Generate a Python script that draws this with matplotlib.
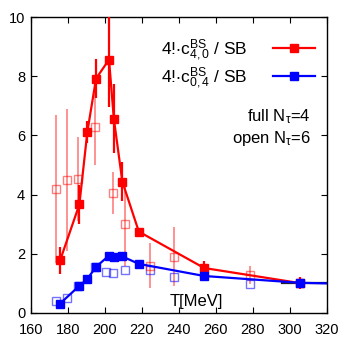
import matplotlib
matplotlib.use('Agg')
import matplotlib.pyplot as plt

plt.rcParams['font.family'] = ['Liberation Sans', 'DejaVu Sans']
plt.rcParams['mathtext.fontset'] = 'custom'
plt.rcParams['mathtext.rm'] = 'Liberation Sans'
plt.rcParams['mathtext.it'] = 'Liberation Sans'
plt.rcParams['mathtext.default'] = 'regular'

# full N_tau=4 (filled symbols, joined by lines)
t_full = [175.9, 186.3, 190.6, 195.3, 202.3, 204.9, 209.5, 218.4, 253.7, 305.4]
c40_full = [1.78, 3.67, 6.12, 7.92, 8.56, 6.57, 4.44, 2.75, 1.52, 1.01]
c40_full_err = [0.46, 0.66, 0.38, 0.65, 1.6, 1.15, 0.65, 0.1, 0.25, 0.2]
c04_full = [0.32, 0.92, 1.15, 1.56, 1.94, 1.89, 1.91, 1.66, 1.25, 1.02]

# open N_tau=6 (open symbols)
t_open = [173.7, 179.5, 185.4, 195.0, 204.7, 211.0, 224.3, 237.5, 278.6]
c40_open = [4.18, 4.49, 4.53, 6.29, 4.05, 3.0, 1.6, 1.9, 1.28]
c40_open_err = [2.5, 2.4, 1.43, 1.3, 0.7, 1.4, 0.75, 1.0, 0.3]
c04_open = [0.39, 0.50, 0.92, 1.56, 1.34, 1.44, 1.46, 1.21, 0.98]
c04_blue_extra_t = [200.9]
c04_blue_extra = [1.37]

# Stefan-Boltzmann limit
sb_t = [296.0, 320.0]
sb_val = [1.0, 1.0]

red = '#ff0000'
blue = '#0000ff'

fig = plt.figure(figsize=(3.47, 3.47), dpi=100)
ax = fig.add_axes([0.0885, 0.098, 0.8535, 0.853])

# open points
ax.errorbar(t_open, c40_open, yerr=c40_open_err, fmt='s', color=red, alpha=0.5,
            mfc='none', mec=red, ms=6, mew=1.0, elinewidth=1.2, capsize=0)
ax.plot(t_open + c04_blue_extra_t, c04_open + c04_blue_extra, 's', color=blue,
        alpha=0.55, mfc='none', ms=6, mew=1.0)

# reference line
ax.plot(sb_t, sb_val, color='#222222', lw=1.6, zorder=3)

# full points
ax.errorbar(t_full, c40_full, yerr=c40_full_err, fmt='none', ecolor=red,
            elinewidth=1.6, capsize=0, zorder=4)
ax.plot(t_full, c40_full, '-s', color=red, lw=1.6, ms=6, zorder=5,
        label=r'4!$\cdot$c$^{BS}_{4,0}$ / SB')
ax.plot(t_full + [320.0], c04_full + [1.0], '-', color=blue, lw=1.6, zorder=5)
ax.plot(t_full, c04_full, 's', color=blue, ms=6, zorder=6)
ax.plot([], [], '-s', color=blue, lw=1.6, ms=6, label=r'4!$\cdot$c$^{BS}_{0,4}$ / SB')

ax.set_xlim(160, 320)
ax.set_ylim(0, 10)
ax.set_xticks(range(160, 321, 20))
ax.set_yticks(range(0, 11, 2))
ax.tick_params(direction='in', top=True, right=True, length=4, labelsize=10.5,
               width=0.8)
ax.tick_params(axis='x', pad=7)
ax.tick_params(axis='y', pad=4)
for s in ax.spines.values():
    s.set_linewidth(1.0)

leg = ax.legend(loc='upper right', bbox_to_anchor=(1.0, 0.975), frameon=False,
                markerfirst=False, fontsize=12.5, handlelength=2.4,
                labelspacing=0.15, borderaxespad=0.3, handletextpad=1.5)

ax.text(0.945, 0.665, r'full N$_\tau$=4', transform=ax.transAxes, ha='right',
        va='center', fontsize=12)
ax.text(0.945, 0.588, r'open N$_\tau$=6', transform=ax.transAxes, ha='right',
        va='center', fontsize=12)
ax.text(0.56, 0.04, 'T[MeV]', transform=ax.transAxes, ha='center',
        va='center', fontsize=12)

fig.savefig('out.png', dpi=100)
